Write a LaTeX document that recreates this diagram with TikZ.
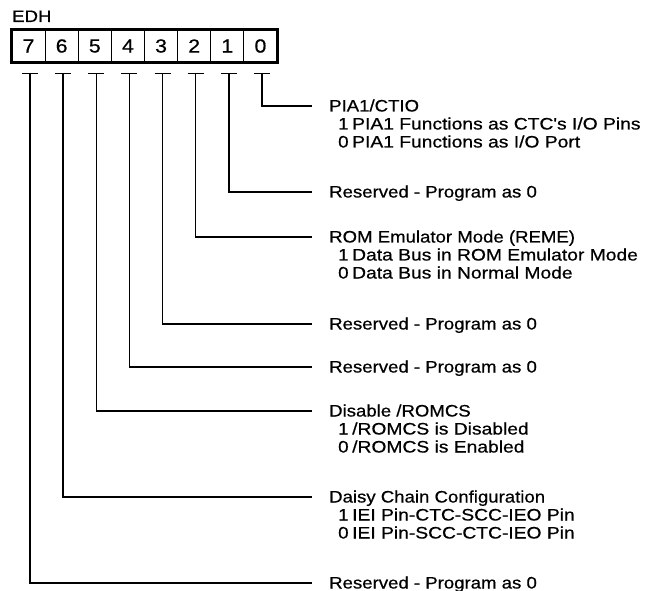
\documentclass[tikz,border=0pt]{standalone}
\usepackage{fontspec}
\setmainfont[FakeStretch=1.12,FakeBold=0.6]{Liberation Sans}
\newfontfamily\subfont[FakeStretch=1.16,FakeBold=0.6]{Liberation Sans}
\usetikzlibrary{calc}
\begin{document}
\begin{tikzpicture}[x=1pt,y=-1pt,
  txt/.style={anchor=base west,inner sep=0pt,font=\fontsize{16.6}{17}\selectfont},
  subtxt/.style={anchor=base west,inner sep=0pt,font=\subfont\fontsize{16.6}{17}\selectfont},
  cell/.style={draw,line width=1.1pt,minimum width=33.125pt,minimum height=32pt,inner sep=0pt,font=\fontsize{19}{19}\selectfont},
  wire/.style={line width=1.6pt},
  tbar/.style={line width=1.6pt}]
\useasboundingbox (0,0) rectangle (654,591);
\node[txt] (edh) at (12,22) {EDH};
% register cells
\foreach \i in {0,...,7}{
  \node[cell] (b\i) at ({12+33.125*(7-\i)+16.5625},46) {\i};
}
\draw[line width=2pt] (b7.north west) rectangle (b0.south east);
% connector start points (T caps) and free ends
\foreach \i/\y in {0/106,1/192,2/237,3/324,4/367,5/411,6/497,7/583}{
  \coordinate (t\i) at ($(b\i.south)+(1.5,11)$);
  \coordinate (e\i) at (312,\y);
  \draw[tbar] ($(t\i)+(-8,0)$) -- ($(t\i)+(8,0)$);
  \draw[wire] (t\i) |- (e\i);
}
% labels
\node[txt] (h0) at (329,111.5) {PIA1/CTIO};
\node[txt] (h0a) at (338,129.5) {1};
\node[subtxt] (h0b) at (352,129.5) {PIA1 Functions as CTC's I/O Pins};
\node[txt] (h0c) at (338,147.5) {0};
\node[subtxt] (h0d) at (352,147.5) {PIA1 Functions as I/O Port};
\node[txt] (h1) at (329,197.5) {Reserved - Program as 0};
\node[txt] (h2) at (329,242.5) {ROM Emulator Mode (REME)};
\node[txt] (h2a) at (338,260.5) {1};
\node[subtxt] (h2b) at (352,260.5) {Data Bus in ROM Emulator Mode};
\node[txt] (h2c) at (338,278.5) {0};
\node[subtxt] (h2d) at (352,278.5) {Data Bus in Normal Mode};
\node[txt] (h3) at (329,329.5) {Reserved - Program as 0};
\node[txt] (h4) at (329,372.5) {Reserved - Program as 0};
\node[txt] (h5) at (329,416.5) {Disable /ROMCS};
\node[txt] (h5a) at (338,434.5) {1};
\node[subtxt] (h5b) at (352,434.5) {/ROMCS is Disabled};
\node[txt] (h5c) at (338,452.5) {0};
\node[subtxt] (h5d) at (352,452.5) {/ROMCS is Enabled};
\node[txt] (h6) at (329,502.5) {Daisy Chain Configuration};
\node[txt] (h6a) at (338,520.5) {1};
\node[subtxt] (h6b) at (352,520.5) {IEI Pin-CTC-SCC-IEO Pin};
\node[txt] (h6c) at (338,538.5) {0};
\node[subtxt] (h6d) at (352,538.5) {IEI Pin-SCC-CTC-IEO Pin};
\node[txt] (h7) at (329,588.5) {Reserved - Program as 0};
\end{tikzpicture}
\end{document}
